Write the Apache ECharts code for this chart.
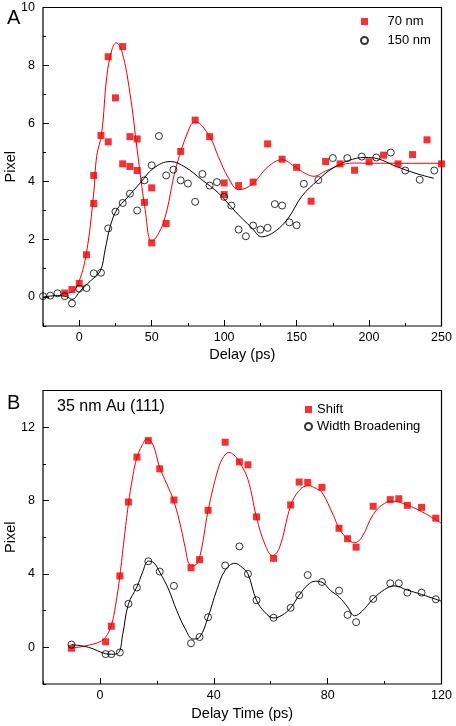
<!DOCTYPE html>
<html>
<head>
<meta charset="utf-8">
<script src="https://cdn.jsdelivr.net/npm/echarts@6/dist/echarts.min.js"></script>
<style>
html,body{margin:0;padding:0;background:#fff;}
#chart{width:456px;height:726px;}
</style>
</head>
<body>
<div id="chart"></div>
<script>
// ---------- Panel A data ----------
const a70X = [-10,-5,0,5,10,10,15,20,20,25,30,30,35,35,40,40,45,50,50,60,70,80,90,100,100,110,120,130,140,150,160,170,180,190,200,210,220,230,240,250];
const a70Y = [0.14,0.26,0.47,1.46,3.23,4.2,5.58,5.36,8.3,6.88,8.65,4.6,5.54,4.51,5.46,4.37,3.27,3.77,1.87,2.54,5.03,6.11,5.54,3.94,3.54,3.85,3.97,5.29,4.76,4.48,3.31,4.68,4.6,4.38,4.67,4.9,4.6,4.92,5.43,4.6];
const a150X = [-25,-20,-15,-10,-5,0,5,10,15,20,25,30,35,40,45,50,55,60,65,70,75,80,85,90,95,100,105,110,115,120,125,130,135,140,145,150,155,165,175,185,195,205,215,225,235,245];
const a150Y = [0.03,0.05,0.13,0.03,-0.22,0.29,0.31,0.82,0.84,2.37,2.95,3.25,3.57,2.99,4.03,4.55,5.56,4.2,4.4,4.03,3.92,3.29,4.25,3.85,3.97,3.46,3.16,2.33,2.1,2.47,2.33,2.39,3.21,3.16,2.58,2.48,3.91,4.04,4.8,4.8,4.85,4.82,4.99,4.37,4.05,4.37];
const a70FitX = [-10,-4,0,5,10,12,15.5,19,22.5,25.5,29.5,35,40,45.5,50,58,67,76.5,80,90,96,103,110,119,130.5,140,149,156,162,170,180,190,200,250];
const a70FitY = [0.12,0.21,0.55,1.53,3.59,4.85,5.66,7.61,8.53,8.78,8.47,7.04,5.08,3.02,1.93,2.56,4.51,5.89,6.05,5.54,4.85,4.11,3.71,3.88,4.51,4.74,4.49,4.27,4.17,4.35,4.55,4.63,4.62,4.62];
const a150FitX = [-25,-15,-8.5,-5,0.7,7.6,14.5,17.9,21.4,26,32.9,42.1,51.3,62.8,73,84.6,96.1,107.6,119.1,126,135.2,144.3,153.6,165,174.3,185.7,197.2,206.4,217.9,231.7,244.8];
const a150FitY = [0.0,0.05,0.01,-0.08,0.21,0.55,0.9,1.64,2.44,3.02,3.42,3.94,4.45,4.68,4.49,4.05,3.59,2.96,2.39,2.08,2.27,2.73,3.48,4.05,4.43,4.71,4.82,4.77,4.53,4.28,4.1];
const aXTicks = [0,50,100,150,200,250];
const aYTicks = [0,2,4,6,8,10];

// ---------- Panel B data ----------
const bShiftX = [-10,2,4,7,10,13,17,21,26,32,35,38,44,49,52,55,61,67,70,73,78,84,87,90,96,102,105,108,113,118];
const bShiftY = [-0.05,0.3,1.15,3.89,7.92,10.37,11.27,9.73,8.03,4.34,4.78,7.47,11.18,10.11,9.95,7.11,4.85,7.76,9.01,8.99,8.72,6.49,5.92,5.46,7.69,8.05,8.1,7.74,7.63,7.04];
const bWidthX = [-10,2,4,7,10,13,17,21,26,32,35,38,44,49,52,55,61,67,70,73,78,84,87,90,96,102,105,108,113,118];
const bWidthY = [0.15,-0.37,-0.37,-0.28,2.37,3.26,4.69,4.13,3.35,0.22,0.56,1.64,4.46,5.5,4.0,2.57,1.61,2.15,2.84,3.94,3.56,3.09,1.77,1.37,2.64,3.49,3.49,2.98,2.98,2.62];
const bShiftFitX = [-10,-5,0,2,4,5.5,7,8.5,10,11.5,13,14.8,16.5,18.5,21,23.5,26,28.5,30,31.5,33,35,38,41.5,43.5,45.3,47,49,52,55,58,60.6,63,67,70,73.3,76,78,82,84,87,89.5,92,96,100,103.3,108,113,118,120];
const bShiftFitY = [-0.05,0.08,0.3,0.55,1.2,2.3,3.9,5.9,7.8,9.3,10.35,11.0,11.35,11.1,9.8,8.9,7.95,6.5,5.4,4.5,4.45,4.9,7.45,9.7,10.4,10.62,10.5,10.1,9.15,7.1,5.6,5.0,5.4,7.7,8.55,8.81,8.65,8.45,7.2,6.5,5.9,5.7,6.0,7.24,7.85,7.96,7.75,7.4,6.95,6.75];
const bWidthFitX = [-10,-4,2,4,6.5,8,10,13,15,17,19,21,24,27,30,32.7,35,38,41,44,47.4,50,52,55,58,61,64,67,70,73,75.6,78,81,84,87,89.5,92,96,100,103.3,108,113,118,120];
const bWidthFitY = [0.15,0.0,-0.35,-0.38,-0.3,0.7,2.35,3.3,4.1,4.7,4.6,4.1,3.2,2.0,1.0,0.45,0.55,1.65,3.1,4.2,4.58,4.35,4.0,2.57,1.9,1.6,1.75,2.15,2.84,3.4,3.6,3.55,3.1,2.75,2.2,1.72,1.95,2.64,3.15,3.35,3.12,2.88,2.62,2.51];
const bXTicks = [0,40,80,120];
const bYTicks = [0,4,8,12];

const FONT = 'Liberation Sans';
const RED = '#f00000';

function zip(xs, ys){ return xs.map((x,i)=>[x, ys[i]]); }

function minorAxis(gridIndex, min, max, step, pos){
  return {type:'value', gridIndex, min, max, interval:step, position:pos,
    axisLine:{show:false, onZero:false}, splitLine:{show:false},
    axisTick:{show:true, inside:true, length:3, lineStyle:{color:'#000', width:1}},
    axisLabel:{show:false}};
}
function majorAxis(gridIndex, min, max, ticks, pos, name, nameGap, labelMargin){
  return {type:'value', gridIndex, min, max, position:pos,
    axisLine:{show:false, onZero:false}, splitLine:{show:false},
    axisTick:{show:true, inside:true, length:6, customValues:ticks, lineStyle:{color:'#000', width:1}},
    axisLabel:{show:true, customValues:ticks, margin:labelMargin, color:'#000', fontFamily:FONT, fontSize:12.5},
    name, nameLocation:'middle', nameGap, nameMoveOverlap:false,
    nameTextStyle:{color:'#000', fontFamily:FONT, fontSize:14.5}};
}

const chart = echarts.init(document.getElementById('chart'), null, {renderer:'canvas'});
const option = {
  animation:false,
  backgroundColor:'#fff',
  title:[
    {text:'A', left:2, top:3, textStyle:{fontFamily:FONT, fontSize:20, fontWeight:'normal', color:'#000'}},
    {text:'B', left:2, top:388, textStyle:{fontFamily:FONT, fontSize:20, fontWeight:'normal', color:'#000'}},
    {text:'35 nm Au (111)', left:52, top:394, textStyle:{fontFamily:FONT, fontSize:16, fontWeight:'normal', color:'#000'}}
  ],
  grid:[
    {left:43, top:7.5, width:398.5, height:318.5, show:true, borderColor:'#000', borderWidth:1.2, backgroundColor:'transparent', containLabel:false, outerBoundsMode:'none'},
    {left:43, top:390.5, width:398.5, height:293.5, show:true, borderColor:'#000', borderWidth:1.2, backgroundColor:'transparent', containLabel:false, outerBoundsMode:'none'}
  ],
  xAxis:[
    minorAxis(0,-25,250,25,'bottom'),
    majorAxis(0,-25,250,aXTicks,'bottom','Delay (ps)',21,5),
    minorAxis(1,-20,120,20,'bottom'),
    majorAxis(1,-20,120,bXTicks,'bottom','Delay Time (ps)',22,5)
  ],
  yAxis:[
    minorAxis(0,-1,10,1,'left'),
    majorAxis(0,-1,10,aYTicks,'left','Pixel',25,8),
    minorAxis(1,-2,14,2,'left'),
    majorAxis(1,-2,14,bYTicks,'left','Pixel',25,8)
  ],
  legend:[
    {data:['70 nm','150 nm'], orient:'vertical', left:355, top:10, padding:5, itemWidth:7, itemHeight:7, itemGap:6,
     formatter:function(n){ return '    ' + n; },
     textStyle:{fontFamily:FONT, fontSize:13, color:'#000'}},
    {data:['Shift','Width Broadening'], orient:'vertical', left:299, top:398, padding:5, itemWidth:7, itemHeight:7, itemGap:4,
     textStyle:{fontFamily:FONT, fontSize:13, color:'#000'}}
  ],
  series:[
    {name:'fit70', type:'line', xAxisIndex:0, yAxisIndex:0, data:zip(a70FitX,a70FitY), smooth:0.4, showSymbol:false, symbol:'none', lineStyle:{color:RED, width:1}, silent:true, z:2},
    {name:'fit150', type:'line', xAxisIndex:0, yAxisIndex:0, data:zip(a150FitX,a150FitY), smooth:0.4, showSymbol:false, symbol:'none', lineStyle:{color:'#000', width:1}, silent:true, z:2},
    {name:'70 nm', type:'scatter', xAxisIndex:0, yAxisIndex:0, data:zip(a70X,a70Y), symbol:'rect', symbolSize:7, itemStyle:{color:RED}, z:3},
    {name:'150 nm', type:'scatter', xAxisIndex:0, yAxisIndex:0, data:zip(a150X,a150Y), symbol:'circle', symbolSize:7, itemStyle:{color:'rgba(255,255,255,0)', borderColor:'#000', borderWidth:1}, z:3},
    {name:'fitShift', type:'line', xAxisIndex:2, yAxisIndex:2, data:zip(bShiftFitX,bShiftFitY), smooth:0.4, showSymbol:false, symbol:'none', lineStyle:{color:RED, width:1}, silent:true, z:2},
    {name:'fitWidth', type:'line', xAxisIndex:2, yAxisIndex:2, data:zip(bWidthFitX,bWidthFitY), smooth:0.4, showSymbol:false, symbol:'none', lineStyle:{color:'#000', width:1}, silent:true, z:2},
    {name:'Shift', type:'scatter', xAxisIndex:2, yAxisIndex:2, data:zip(bShiftX,bShiftY), symbol:'rect', symbolSize:7, itemStyle:{color:RED}, z:3},
    {name:'Width Broadening', type:'scatter', xAxisIndex:2, yAxisIndex:2, data:zip(bWidthX,bWidthY), symbol:'circle', symbolSize:7, itemStyle:{color:'rgba(255,255,255,0)', borderColor:'#000', borderWidth:1}, z:3}
  ]
};
chart.setOption(option);
</script>
</body>
</html>
